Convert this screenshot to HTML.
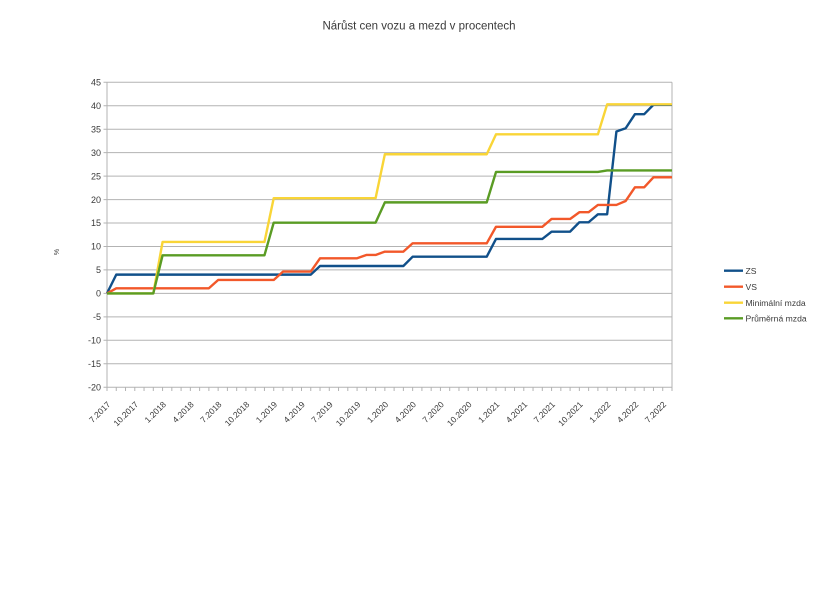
<!DOCTYPE html>
<html>
<head>
<meta charset="utf-8">
<style>
html,body{margin:0;padding:0;background:#fff;}
svg{display:block;}
text{font-family:"Liberation Sans",Arial,sans-serif;fill:#3a3a3a;}
</style>
</head>
<body>
<svg width="838" height="597" viewBox="0 0 838 597" xmlns="http://www.w3.org/2000/svg">
<rect width="838" height="597" fill="#fff"/>
<text x="419" y="29.5" text-anchor="middle" font-size="11.5">Nárůst cen vozu a mezd v procentech</text>

<!-- gridlines -->
<g stroke="#b3b3b3" stroke-width="1" fill="none">
<path d="M107 82.25H672M107 105.7H672M107 129.2H672M107 152.6H672M107 176.1H672M107 199.6H672M107 223H672M107 246.5H672M107 269.9H672M107 293.4H672M107 316.9H672M107 340.3H672M107 363.8H672M107 387.3H672"/>
<path d="M103.5 82.25H107M103.5 105.7H107M103.5 129.2H107M103.5 152.6H107M103.5 176.1H107M103.5 199.6H107M103.5 223H107M103.5 246.5H107M103.5 269.9H107M103.5 293.4H107M103.5 316.9H107M103.5 340.3H107M103.5 363.8H107M103.5 387.3H107"/>
<path d="M107 82.25V391M672 82.25V391"/>
<path d="M116.26 387.3V391M125.52 387.3V391M134.79 387.3V391M144.05 387.3V391M153.31 387.3V391M162.57 387.3V391M171.83 387.3V391M181.1 387.3V391M190.36 387.3V391M199.62 387.3V391M208.88 387.3V391M218.14 387.3V391M227.41 387.3V391M236.67 387.3V391M245.93 387.3V391M255.19 387.3V391M264.45 387.3V391M273.72 387.3V391M282.98 387.3V391M292.24 387.3V391M301.5 387.3V391M310.76 387.3V391M320.03 387.3V391M329.29 387.3V391M338.55 387.3V391M347.81 387.3V391M357.07 387.3V391M366.34 387.3V391M375.6 387.3V391M384.86 387.3V391M394.12 387.3V391M403.38 387.3V391M412.65 387.3V391M421.91 387.3V391M431.17 387.3V391M440.43 387.3V391M449.69 387.3V391M458.96 387.3V391M468.22 387.3V391M477.48 387.3V391M486.74 387.3V391M496 387.3V391M505.27 387.3V391M514.53 387.3V391M523.79 387.3V391M533.05 387.3V391M542.31 387.3V391M551.58 387.3V391M560.84 387.3V391M570.1 387.3V391M579.36 387.3V391M588.62 387.3V391M597.89 387.3V391M607.15 387.3V391M616.41 387.3V391M625.67 387.3V391M634.93 387.3V391M644.2 387.3V391M653.46 387.3V391M662.72 387.3V391"/>
</g>

<!-- y labels -->
<g font-size="9" text-anchor="end">
<text x="101" y="85.4">45</text>
<text x="101" y="108.9">40</text>
<text x="101" y="132.4">35</text>
<text x="101" y="155.8">30</text>
<text x="101" y="179.3">25</text>
<text x="101" y="202.8">20</text>
<text x="101" y="226.2">15</text>
<text x="101" y="249.7">10</text>
<text x="101" y="273.1">5</text>
<text x="101" y="296.6">0</text>
<text x="101" y="320.1">-5</text>
<text x="101" y="343.5">-10</text>
<text x="101" y="367">-15</text>
<text x="101" y="390.5">-20</text>
</g>
<text transform="translate(59,252) rotate(-90)" font-size="7" text-anchor="middle">%</text>

<!-- x labels -->
<g font-size="8.5" text-anchor="end">
<text transform="translate(111,405) rotate(-45)">7.2017</text>
<text transform="translate(138.79,405) rotate(-45)">10.2017</text>
<text transform="translate(166.57,405) rotate(-45)">1.2018</text>
<text transform="translate(194.36,405) rotate(-45)">4.2018</text>
<text transform="translate(222.14,405) rotate(-45)">7.2018</text>
<text transform="translate(249.93,405) rotate(-45)">10.2018</text>
<text transform="translate(277.72,405) rotate(-45)">1.2019</text>
<text transform="translate(305.5,405) rotate(-45)">4.2019</text>
<text transform="translate(333.29,405) rotate(-45)">7.2019</text>
<text transform="translate(361.07,405) rotate(-45)">10.2019</text>
<text transform="translate(388.86,405) rotate(-45)">1.2020</text>
<text transform="translate(416.65,405) rotate(-45)">4.2020</text>
<text transform="translate(444.43,405) rotate(-45)">7.2020</text>
<text transform="translate(472.22,405) rotate(-45)">10.2020</text>
<text transform="translate(500,405) rotate(-45)">1.2021</text>
<text transform="translate(527.79,405) rotate(-45)">4.2021</text>
<text transform="translate(555.58,405) rotate(-45)">7.2021</text>
<text transform="translate(583.36,405) rotate(-45)">10.2021</text>
<text transform="translate(611.15,405) rotate(-45)">1.2022</text>
<text transform="translate(638.93,405) rotate(-45)">4.2022</text>
<text transform="translate(666.72,405) rotate(-45)">7.2022</text>
</g>

<!-- series -->
<g fill="none" stroke-width="2.4" stroke-linejoin="round">
<polyline stroke="#11508a" points="107,293.4 116.26,274.63 310.76,274.63 320.03,266 403.38,266 412.65,256.66 486.74,256.66 496,238.97 542.31,238.97 551.58,231.65 570.1,231.65 579.36,222.27 588.62,222.27 597.89,214.29 607.15,214.29 616.41,131.53 625.67,128.24 634.93,114.16 644.2,114.16 653.46,104.78 671.98,104.78"/>
<polyline stroke="#f2582a" points="107,293.4 116.26,288.29 208.88,288.29 218.14,279.98 273.72,279.98 282.98,271.6 310.76,271.6 320.03,258.3 357.07,258.3 366.34,254.97 375.6,254.97 384.86,251.64 403.38,251.64 412.65,243.29 486.74,243.29 496,226.77 542.31,226.77 551.58,218.98 570.1,218.98 579.36,212.23 588.62,212.23 597.89,204.96 616.41,204.96 625.67,200.97 634.93,187.36 644.2,187.36 653.46,177.27 671.98,177.27"/>
<polyline stroke="#f9d537" points="107,293.4 153.31,293.4 162.57,241.98 264.45,241.98 273.72,198.15 375.6,198.15 384.86,154.24 486.74,154.24 496,134.34 597.89,134.34 607.15,104.31 671.98,104.31"/>
<polyline stroke="#5a9c24" points="107,293.4 153.31,293.4 162.57,255.3 264.45,255.3 273.72,222.64 375.6,222.64 384.86,202.38 486.74,202.38 496,171.97 597.89,171.97 607.15,170.47 671.98,170.47"/>
</g>

<!-- legend -->
<g stroke-width="2.4">
<line x1="724" y1="270.7" x2="743" y2="270.7" stroke="#11508a"/>
<line x1="724" y1="286.7" x2="743" y2="286.7" stroke="#f2582a"/>
<line x1="724" y1="302.7" x2="743" y2="302.7" stroke="#f9d537"/>
<line x1="724" y1="318.3" x2="743" y2="318.3" stroke="#5a9c24"/>
</g>
<g font-size="8.6">
<text x="745.5" y="273.9">ZS</text>
<text x="745.5" y="289.9">VS</text>
<text x="745.5" y="305.9">Minimální mzda</text>
<text x="745.5" y="321.5">Průměrná mzda</text>
</g>
</svg>
</body>
</html>
